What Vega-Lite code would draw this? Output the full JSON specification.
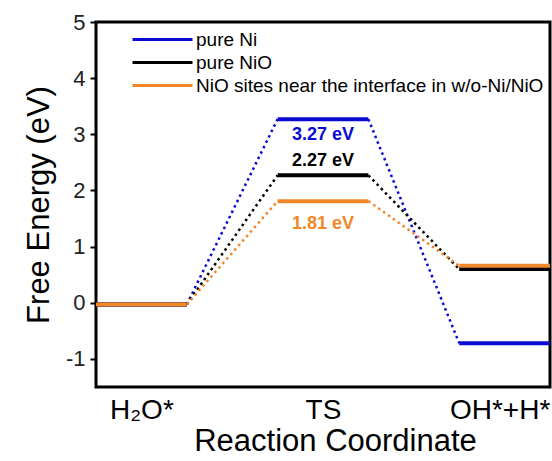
{
  "$schema": "https://vega.github.io/schema/vega-lite/v6.json",
  "width": 454,
  "height": 365,
  "autosize": {"type": "none"},
  "padding": {"left": 96, "top": 22, "right": 2, "bottom": 74},
  "background": "white",
  "config": {
    "font": "Liberation Sans",
    "view": {"stroke": "black", "strokeWidth": 3},
    "axis": {"domain": false, "grid": false}
  },
  "datasets": {
    "levels": [
      {"series": "pure Ni", "state": "H2O", "x0": 0, "x1": 2, "e": -0.03},
      {"series": "pure Ni", "state": "TS", "x0": 4, "x1": 6, "e": 3.27},
      {"series": "pure Ni", "state": "OH+H", "x0": 8, "x1": 10, "e": -0.72},
      {"series": "pure NiO", "state": "H2O", "x0": 0, "x1": 2, "e": -0.03},
      {"series": "pure NiO", "state": "TS", "x0": 4, "x1": 6, "e": 2.27},
      {"series": "pure NiO", "state": "OH+H", "x0": 8, "x1": 10, "e": 0.6},
      {"series": "NiO sites near the interface in w/o-Ni/NiO", "state": "H2O", "x0": 0, "x1": 2, "e": -0.03},
      {"series": "NiO sites near the interface in w/o-Ni/NiO", "state": "TS", "x0": 4, "x1": 6, "e": 1.81},
      {"series": "NiO sites near the interface in w/o-Ni/NiO", "state": "OH+H", "x0": 8, "x1": 10, "e": 0.66}
    ],
    "links": [
      {"series": "pure Ni", "xa": 2, "xb": 4, "ea": -0.03, "eb": 3.27},
      {"series": "pure Ni", "xa": 6, "xb": 8, "ea": 3.27, "eb": -0.72},
      {"series": "pure NiO", "xa": 2, "xb": 4, "ea": -0.03, "eb": 2.27},
      {"series": "pure NiO", "xa": 6, "xb": 8, "ea": 2.27, "eb": 0.6},
      {"series": "NiO sites near the interface in w/o-Ni/NiO", "xa": 2, "xb": 4, "ea": -0.03, "eb": 1.81},
      {"series": "NiO sites near the interface in w/o-Ni/NiO", "xa": 6, "xb": 8, "ea": 1.81, "eb": 0.66}
    ],
    "barriers": [
      {"series": "pure Ni", "e": 3.27, "label": "3.27 eV"},
      {"series": "pure NiO", "e": 2.27, "label": "2.27 eV"},
      {"series": "NiO sites near the interface in w/o-Ni/NiO", "e": 1.81, "label": "1.81 eV"}
    ]
  },
  "layer": [
    {
      "data": {"name": "links"},
      "mark": {"type": "rule", "strokeWidth": 2.5, "strokeDash": [2.5, 3.5]},
      "encoding": {
        "x": {"field": "xa", "type": "quantitative"},
        "x2": {"field": "xb"},
        "y": {"field": "ea", "type": "quantitative"},
        "y2": {"field": "eb"},
        "color": {"field": "series", "type": "nominal"}
      }
    },
    {
      "data": {"name": "levels"},
      "mark": {"type": "rule", "strokeWidth": 4},
      "encoding": {
        "x": {
          "field": "x0", "type": "quantitative",
          "scale": {"domain": [0, 10], "nice": false, "zero": false},
          "axis": {
            "values": [1, 5, 9],
            "labelExpr": "datum.value == 1 ? 'H₂O*' : datum.value == 5 ? 'TS' : 'OH*+H*'",
            "labelOffset": {"condition": {"test": "datum.value == 9", "value": -5}, "value": 0},
            "ticks": false,
            "labelFontSize": 28,
            "labelColor": "black",
            "labelPadding": 9,
            "title": "Reaction Coordinate",
            "titleFontSize": 31,
            "titleFontWeight": "normal",
            "titleColor": "black",
            "titlePadding": 2,
            "titleX": 239
          }
        },
        "x2": {"field": "x1"},
        "y": {
          "field": "e", "type": "quantitative",
          "scale": {"domain": [-1.5, 5], "nice": false, "zero": false},
          "axis": {
            "values": [-1, -0.5, 0, 0.5, 1, 1.5, 2, 2.5, 3, 3.5, 4, 4.5, 5],
            "labelExpr": "datum.value % 1 == 0 ? '' + datum.value : ''",
            "tickColor": "black",
            "tickWidth": 2,
            "tickSize": {"condition": {"test": "datum.value % 1 != 0", "value": 3}, "value": 6},
            "labelFontSize": 22,
            "labelColor": "#222222",
            "labelPadding": 5,
            "title": "Free Energy (eV)",
            "titleFontSize": 31,
            "titleFontWeight": "normal",
            "titleColor": "black",
            "titlePadding": 10
          }
        },
        "color": {
          "field": "series", "type": "nominal",
          "scale": {
            "domain": ["pure Ni", "pure NiO", "NiO sites near the interface in w/o-Ni/NiO"],
            "range": ["#0b0bd6", "#000000", "#f0882a"]
          },
          "legend": {
            "title": null,
            "orient": "none",
            "legendX": 57,
            "legendY": 8,
            "padding": 0,
            "symbolType": "M-10,0H10",
            "symbolSize": 36,
            "symbolStrokeWidth": 3,
            "labelFontSize": 19,
            "labelColor": "black",
            "labelOffset": 24,
            "rowPadding": 3,
            "labelLimit": 500
          }
        }
      }
    },
    {
      "data": {"name": "barriers"},
      "transform": [{"filter": "datum.series == 'pure Ni'"}],
      "mark": {"type": "text", "fontSize": 18, "fontWeight": "bold", "dy": 16},
      "encoding": {
        "x": {"datum": 5, "type": "quantitative"},
        "y": {"field": "e", "type": "quantitative"},
        "text": {"field": "label"},
        "color": {"field": "series", "type": "nominal"}
      }
    },
    {
      "data": {"name": "barriers"},
      "transform": [{"filter": "datum.series == 'pure NiO'"}],
      "mark": {"type": "text", "fontSize": 18, "fontWeight": "bold", "dy": -14},
      "encoding": {
        "x": {"datum": 5, "type": "quantitative"},
        "y": {"field": "e", "type": "quantitative"},
        "text": {"field": "label"},
        "color": {"field": "series", "type": "nominal"}
      }
    },
    {
      "data": {"name": "barriers"},
      "transform": [{"filter": "datum.series == 'NiO sites near the interface in w/o-Ni/NiO'"}],
      "mark": {"type": "text", "fontSize": 18, "fontWeight": "bold", "dy": 23},
      "encoding": {
        "x": {"datum": 5, "type": "quantitative"},
        "y": {"field": "e", "type": "quantitative"},
        "text": {"field": "label"},
        "color": {"field": "series", "type": "nominal"}
      }
    }
  ]
}
